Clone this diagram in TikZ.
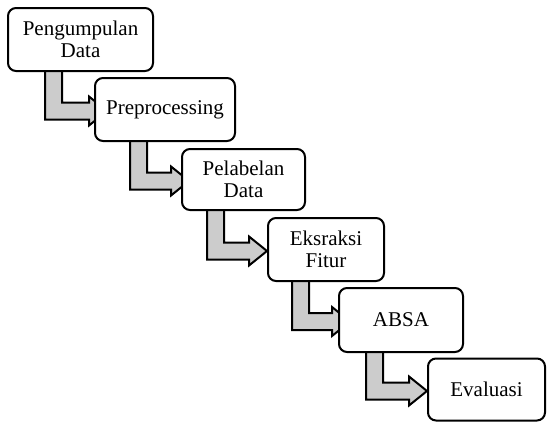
\documentclass[tikz,border=0pt]{standalone}
\usepackage{fontspec}
\setmainfont{Liberation Serif}
\usetikzlibrary{calc}
\pgfdeclarelayer{bg}
\pgfsetlayers{bg,main}

% #1 from box, #2 to box, #3 bar offset from the left of #1, #4 how far the tip runs under #2
\newcommand\flowarrow[4]{%
  \coordinate (fa-s) at ($(#1.south west)+(#3,-6)$);
  \coordinate (fa-r) at ($(fa-s)+(17,0)$);
  \coordinate (fa-t) at ($(#2.west)+(#4,1.5)$);
  \coordinate (fa-lo) at ($(fa-t)+(-18,8.5)$);
  \coordinate (fa-hi) at ($(fa-t)+(-18,-8.5)$);
  \coordinate (fa-blo) at ($(fa-t)+(-18,14.5)$);
  \coordinate (fa-bhi) at ($(fa-t)+(-18,-14.5)$);
  \begin{pgfonlayer}{bg}
    \draw[flow] (fa-s) -- (fa-s |- fa-lo) -- (fa-lo) -- (fa-blo) -- (fa-t)
      -- (fa-bhi) -- (fa-hi) -- (fa-r |- fa-hi) -- (fa-r) -- cycle;
  \end{pgfonlayer}%
}

\begin{document}
\begin{tikzpicture}[x=1pt,y=-1pt,
  box/.style={draw=black, line width=2pt, rounded corners=8pt, fill=white,
    inner sep=0pt, align=center, font=\fontsize{21}{22}\selectfont},
  flow/.style={draw=black, line width=2pt, fill=black!20, line join=miter}]
  \useasboundingbox (0,0) rectangle (547,423);

  \node[box, minimum width=145pt, minimum height=63pt] (b1) at (80.5,39.5) {Pengumpulan\\Data};
  \node[box, minimum width=140pt, minimum height=63pt] (b2) at (165,109.5) {Preprocessing};
  \node[box, minimum width=123pt, minimum height=61pt] (b3) at (243.5,179.5) {Pelabelan\\Data};
  \node[box, minimum width=116pt, minimum height=63pt] (b4) at (326,249.5) {Eksraksi\\Fitur};
  \node[box, minimum width=124pt, minimum height=64pt] (b5) at (401,320) {ABSA};
  \node[box, minimum width=117pt, minimum height=62pt] (b6) at (486.5,389.5) {Evaluasi};

  \flowarrow{b1}{b2}{38}{13}
  \flowarrow{b2}{b3}{36}{8}
  \flowarrow{b3}{b4}{26}{0}
  \flowarrow{b4}{b5}{25}{12}
  \flowarrow{b5}{b6}{28}{0}
\end{tikzpicture}
\end{document}
